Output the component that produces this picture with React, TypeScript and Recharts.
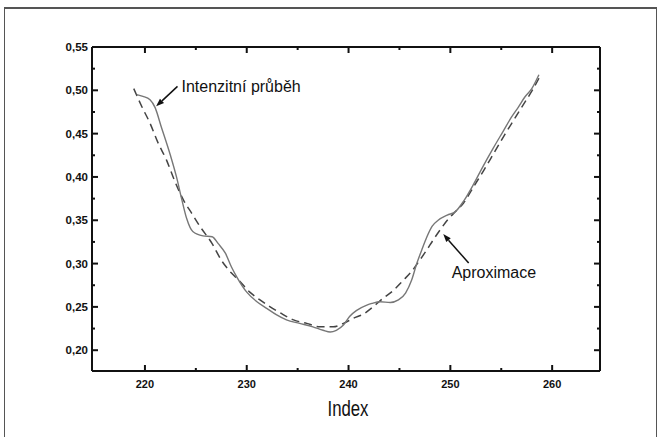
import { LineChart, Line, XAxis, YAxis, ReferenceLine, Label } from 'recharts'

// measured profile (solid) and fitted approximation (dashed)
const signalX = [
  219.2, 219.8, 220.5, 221.0, 221.6, 222.5, 223.1, 223.6, 224.1, 224.7, 225.7, 226.6, 227.2, 227.9, 228.5,
  229.0, 230.0, 231.0, 232.0, 232.9, 233.9, 235.2, 236.5, 237.5, 238.2, 238.8, 239.5, 240.1, 240.8, 241.8,
  242.3, 243.1, 244.1, 244.9, 245.6, 246.2, 246.7, 247.2, 247.7, 248.2, 248.8, 249.7, 250.5, 251.3, 252.3,
  253.2, 254.2, 255.2, 256.0, 256.7, 257.3, 258.0, 258.7,
]
const signalY = [
  0.495, 0.493, 0.489, 0.480, 0.458, 0.425, 0.400, 0.375, 0.352, 0.337, 0.332, 0.331, 0.323, 0.312, 0.296,
  0.285, 0.267, 0.256, 0.248, 0.241, 0.235, 0.231, 0.227, 0.223, 0.221, 0.223, 0.229, 0.239, 0.246, 0.252,
  0.254, 0.256, 0.255, 0.258, 0.266, 0.281, 0.300, 0.316, 0.331, 0.343, 0.350, 0.356, 0.360, 0.372, 0.392,
  0.412, 0.433, 0.453, 0.469, 0.481, 0.492, 0.502, 0.518,
]

const approxX = [
  218.9, 219.7, 220.5, 221.3, 222.1, 222.9, 223.8, 224.6, 225.4, 226.6, 227.5, 228.5, 229.2, 230.3, 231.3,
  232.3, 233.3, 234.6, 235.9, 237.2, 238.5, 239.5, 240.5, 241.5, 242.4, 243.4, 244.4, 245.4, 246.2, 247.0,
  247.7, 248.3, 249.0, 249.7, 250.5, 251.3, 252.3, 253.3, 254.3, 255.3, 256.3, 257.2, 258.0, 258.8,
]
const approxY = [
  0.502, 0.481, 0.462, 0.439, 0.420, 0.396, 0.373, 0.358, 0.343, 0.323, 0.304, 0.289, 0.281, 0.267, 0.258,
  0.250, 0.243, 0.235, 0.231, 0.227, 0.227, 0.231, 0.237, 0.242, 0.250, 0.260, 0.269, 0.281, 0.291, 0.304,
  0.316, 0.327, 0.339, 0.350, 0.360, 0.370, 0.389, 0.408, 0.428, 0.448, 0.467, 0.484, 0.499, 0.516,
]

const xTicks = [220, 225, 230, 235, 240, 245, 250, 255, 260]
const yTicks = [0.2, 0.225, 0.25, 0.275, 0.3, 0.325, 0.35, 0.375, 0.4, 0.425, 0.45, 0.475, 0.5, 0.525, 0.55]

const signalLabel = 'Intenzitní průběh'
const approxLabel = 'Aproximace'

const signalData = signalX.map((x, i) => ({ x, y: signalY[i] }))
const approxData = approxX.map((x, i) => ({ x, y: approxY[i] }))

const X_DOMAIN = [214.8, 264.7]
const Y_DOMAIN = [0.176, 0.55]

const FONT = '"Liberation Sans", Arial, sans-serif'
const INK = '#111'

const isMajorX = (v: number) => v % 10 === 0
const isMajorY = (v: number) => Math.round(v * 1000) % 50 === 0

const BottomTick = ({ x, y, payload }: any) => {
  const major = isMajorX(payload.value)
  return (
    <g>
      <path d={`M${x},${y}V${y - (major ? 6 : 3)}`} stroke={INK} strokeWidth={2} fill="none" />
      {major && (
        <text x={x} y={y + 17} textAnchor="middle" fontSize={11} fontWeight="bold" fontFamily={FONT} fill={INK}>
          {payload.value}
        </text>
      )}
    </g>
  )
}

const TopTick = ({ x, y, payload }: any) => {
  const major = isMajorX(payload.value)
  return <path d={`M${x},${y}V${y + (major ? 6 : 3)}`} stroke={INK} strokeWidth={2} fill="none" />
}

const LeftTick = ({ x, y, payload }: any) => {
  const major = isMajorY(payload.value)
  return (
    <g>
      <path d={`M${x},${y}H${x + (major ? 6 : 3)}`} stroke={INK} strokeWidth={2} fill="none" />
      {major && (
        <text x={x - 4} y={y + 4} textAnchor="end" fontSize={11.5} fontWeight="bold" fontFamily={FONT} fill={INK}>
          {payload.value.toFixed(2).replace('.', ',')}
        </text>
      )}
    </g>
  )
}

const RightTick = ({ x, y, payload }: any) => {
  const major = isMajorY(payload.value)
  return <path d={`M${x},${y}H${x - (major ? 6 : 3)}`} stroke={INK} strokeWidth={2} fill="none" />
}

const IndexLabel = ({ viewBox }: any) => (
  <text
    x={viewBox.x + viewBox.width / 2 + 2}
    y={viewBox.y + viewBox.height - 5}
    textAnchor="middle"
    fontSize={22}
    fontFamily={FONT}
    fill={INK}
    textLength={41}
    lengthAdjust="spacingAndGlyphs"
  >
    Index
  </text>
)

const arrowShape = (text: string, dx: number, dy: number) => (p: any) => {
  const { x1, y1, x2, y2 } = p
  const a = Math.atan2(y2 - y1, x2 - x1)
  const len = 8
  const w = 3
  const bx = x2 - len * Math.cos(a)
  const by = y2 - len * Math.sin(a)
  const pts = [
    `${x2},${y2}`,
    `${bx + w * Math.sin(a)},${by - w * Math.cos(a)}`,
    `${bx - w * Math.sin(a)},${by + w * Math.cos(a)}`,
  ].join(' ')
  return (
    <g>
      <line x1={x1} y1={y1} x2={bx} y2={by} stroke={INK} strokeWidth={1.5} />
      <polygon points={pts} fill={INK} />
      <text x={x1 + dx} y={y1 + dy} fontSize={16} fontFamily={FONT} fill={INK}>
        {text}
      </text>
    </g>
  )
}

export default function App() {
  return (
    <div style={{ position: 'absolute', left: 0, top: 0, width: 663, height: 437, background: '#fff', overflow: 'hidden' }}>
      <div
        style={{
          position: 'absolute',
          left: 4,
          top: 7,
          width: 651,
          height: 440,
          borderTop: '2px solid #555',
          borderLeft: '1.5px solid #555',
          borderRight: '1.5px solid #555',
        }}
      />
      <div style={{ position: 'absolute', left: 0, top: 0 }}>
        <LineChart width={663} height={437} margin={{ top: 46, right: 62, bottom: 16, left: 32 }}>
          <XAxis
            dataKey="x"
            type="number"
            domain={X_DOMAIN}
            allowDataOverflow
            ticks={xTicks}
            interval={0}
            tickSize={0}
            tickMargin={0}
            tick={<BottomTick />}
            height={50}
            stroke={INK}
            strokeWidth={2}
          >
            <Label content={<IndexLabel />} />
          </XAxis>
          <XAxis
            xAxisId="top"
            dataKey="x"
            orientation="top"
            type="number"
            domain={X_DOMAIN}
            allowDataOverflow
            ticks={xTicks}
            interval={0}
            tickSize={0}
            tickMargin={0}
            tick={<TopTick />}
            height={1}
            stroke={INK}
            strokeWidth={2}
          />
          <YAxis
            type="number"
            domain={Y_DOMAIN}
            allowDataOverflow
            ticks={yTicks}
            interval={0}
            tickSize={0}
            tickMargin={0}
            tick={<LeftTick />}
            width={60}
            stroke={INK}
            strokeWidth={2}
          />
          <YAxis
            yAxisId="right"
            orientation="right"
            type="number"
            domain={Y_DOMAIN}
            allowDataOverflow
            ticks={yTicks}
            interval={0}
            tickSize={0}
            tickMargin={0}
            tick={<RightTick />}
            width={1}
            stroke={INK}
            strokeWidth={2}
          />
          {/* invisible copy so the mirrored top/right axes are drawn */}
          <Line
            xAxisId="top"
            yAxisId="right"
            data={signalData}
            dataKey="y"
            stroke="none"
            dot={false}
            activeDot={false}
            isAnimationActive={false}
          />
          <Line
            data={approxData}
            dataKey="y"
            type="monotone"
            stroke="#444"
            strokeWidth={1.5}
            strokeDasharray="8 5"
            dot={false}
            isAnimationActive={false}
          />
          <Line
            data={signalData}
            dataKey="y"
            type="monotone"
            stroke="#777"
            strokeWidth={1.4}
            dot={false}
            isAnimationActive={false}
          />
          <ReferenceLine
            segment={[{ x: 223.2, y: 0.5045 }, { x: 221.1, y: 0.4815 }]}
            shape={arrowShape(signalLabel, 4, 6)}
          />
          <ReferenceLine
            segment={[{ x: 251.8, y: 0.3006 }, { x: 249.3, y: 0.334 }]}
            shape={arrowShape(approxLabel, -17, 15)}
          />
        </LineChart>
      </div>
    </div>
  )
}
